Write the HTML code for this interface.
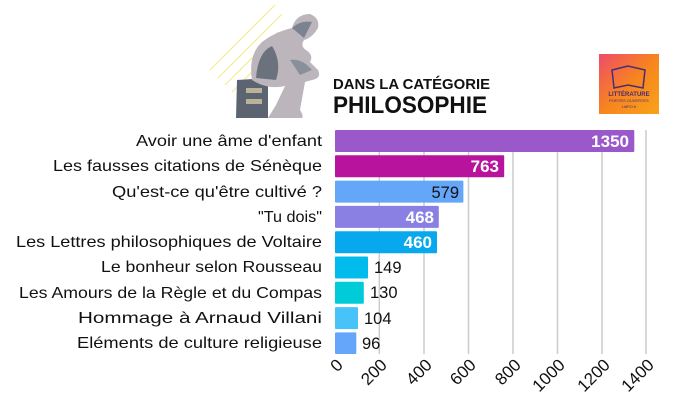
<!DOCTYPE html>
<html><head><meta charset="utf-8"><style>
body{margin:0;background:#fff;}
svg{display:block;font-family:"Liberation Sans",sans-serif;}
</style></head><body>
<svg width="680" height="416" viewBox="0 0 680 416">
<!-- statue -->
<g>
<line x1="210" y1="70" x2="275" y2="5" stroke="#f3ea8a" stroke-width="1"/>
<line x1="218" y1="78" x2="282" y2="14" stroke="#f3ea8a" stroke-width="1"/>
<line x1="225" y1="85" x2="278" y2="32" stroke="#f3ea8a" stroke-width="1"/>
<line x1="232" y1="92" x2="260" y2="64" stroke="#f3ea8a" stroke-width="1"/>
<path d="M237 80 L268 78 L268 118 L236 118 Z" fill="#5b6470"/>
<rect x="246" y="88" width="16" height="5" fill="#b8b39a"/>
<rect x="246" y="99" width="16" height="5" fill="#b8b39a"/>
<path d="M252 80 Q248 55 262 42 Q275 32 292 28 Q296 14 310 14 Q320 18 318 28 Q312 38 304 40 Q300 46 306 50 Q314 55 310 62 L318 70 Q322 78 312 80 L305 82 L300 110 Q304 116 302 118 L268 118 L276 105 L285 86 Q268 90 252 80 Z" fill="#bcb6bc"/>
<path d="M256 78 Q258 52 272 46 Q282 62 276 80 Z" fill="#6b727e"/>
<path d="M292 28 Q300 20 312 22 L304 38 Z" fill="#7b8290"/>
<path d="M290 60 Q302 58 312 70 L300 75 Z" fill="#8a909a"/>
</g>
<text x="333" y="89" font-size="15" font-weight="bold" fill="#111" textLength="157" lengthAdjust="spacingAndGlyphs">DANS LA CATÉGORIE</text>
<text x="333" y="113" font-size="24" font-weight="bold" fill="#111" textLength="154" lengthAdjust="spacingAndGlyphs">PHILOSOPHIE</text>
<defs><linearGradient id="lg" x1="0" y1="0" x2="1" y2="1"><stop offset="0" stop-color="#ef4a6a"/><stop offset="0.5" stop-color="#f7841f"/><stop offset="1" stop-color="#f9a21a"/></linearGradient></defs>
<rect x="599" y="54" width="60" height="60" fill="url(#lg)"/>
<path d="M612 70 L628 66 L645 70 L643 88 L628 85 L614 88 Z" fill="none" stroke="#4a2a7a" stroke-width="1.5"/>
<text x="629" y="96" font-size="6" font-weight="bold" fill="#4a2a7a" text-anchor="middle">LITTÉRATURE</text>
<text x="629" y="102" font-size="4" fill="#4a2a7a" text-anchor="middle">PORTES OUVERTES</text>
<text x="629" y="108" font-size="4" fill="#4a2a7a" text-anchor="middle">LittPO.fr</text>
<!-- grid -->
<g stroke="#cccccc" stroke-width="1.5">
<line x1="379.3" y1="130" x2="379.3" y2="354"/><line x1="424" y1="130" x2="424" y2="354"/>
<line x1="468.5" y1="130" x2="468.5" y2="354"/><line x1="513" y1="130" x2="513" y2="354"/>
<line x1="557.5" y1="130" x2="557.5" y2="354"/><line x1="602" y1="130" x2="602" y2="354"/>
<line x1="646" y1="130" x2="646" y2="354"/>
</g>
<g>
<rect x="335" y="130" width="299.3" height="22" rx="1" fill="#9b58cb"/>
<rect x="335" y="155.3" width="169.2" height="22" rx="1" fill="#b8139d"/>
<rect x="335" y="180.6" width="128.4" height="22" rx="1" fill="#64a6f7"/>
<rect x="335" y="205.9" width="103.8" height="22" rx="1" fill="#8a7fe2"/>
<rect x="335" y="231.2" width="102" height="22" rx="1" fill="#07a8ee"/>
<rect x="335" y="256.5" width="33" height="22" rx="1" fill="#00bcec"/>
<rect x="335" y="281.8" width="28.8" height="22" rx="1" fill="#00ccd9"/>
<rect x="335" y="307.1" width="23" height="22" rx="1" fill="#48c3fa"/>
<rect x="335" y="332.4" width="21.3" height="21.6" rx="1" fill="#65a6fa"/>
</g>
<g font-size="17" fill="#fff" font-weight="bold" text-anchor="end">
<text x="629" y="147">1350</text>
<text x="499" y="172">763</text>
<text x="434" y="223">468</text>
<text x="432" y="248">460</text>
</g>
<g font-size="16.5" fill="#111">
<text x="459" y="198" text-anchor="end">579</text>
<text x="374" y="273">149</text>
<text x="370" y="298">130</text>
<text x="364" y="324">104</text>
<text x="362" y="349">96</text>
</g>
<g font-size="16" fill="#111">
<text x="136" y="146" textLength="186" lengthAdjust="spacingAndGlyphs">Avoir une âme d'enfant</text>
<text x="53" y="171" textLength="269" lengthAdjust="spacingAndGlyphs">Les fausses citations de Sénèque</text>
<text x="112" y="197" textLength="210" lengthAdjust="spacingAndGlyphs">Qu'est-ce qu'être cultivé ?</text>
<text x="258" y="222" textLength="64" lengthAdjust="spacingAndGlyphs">"Tu dois"</text>
<text x="16" y="247" textLength="306" lengthAdjust="spacingAndGlyphs">Les Lettres philosophiques de Voltaire</text>
<text x="101" y="272" textLength="221" lengthAdjust="spacingAndGlyphs">Le bonheur selon Rousseau</text>
<text x="19" y="298" textLength="303" lengthAdjust="spacingAndGlyphs">Les Amours de la Règle et du Compas</text>
<text x="78" y="323" textLength="244" lengthAdjust="spacingAndGlyphs">Hommage à Arnaud Villani</text>
<text x="77" y="348" textLength="245" lengthAdjust="spacingAndGlyphs">Eléments de culture religieuse</text>
</g>
<g font-size="17" fill="#111" text-anchor="end">
<text transform="translate(344,366) rotate(-45)">0</text>
<text transform="translate(388,366) rotate(-45)">200</text>
<text transform="translate(433,366) rotate(-45)">400</text>
<text transform="translate(477,366) rotate(-45)">600</text>
<text transform="translate(522,366) rotate(-45)">800</text>
<text transform="translate(566,366) rotate(-45)">1000</text>
<text transform="translate(611,366) rotate(-45)">1200</text>
<text transform="translate(655,366) rotate(-45)">1400</text>
</g>
</svg>
</body></html>
